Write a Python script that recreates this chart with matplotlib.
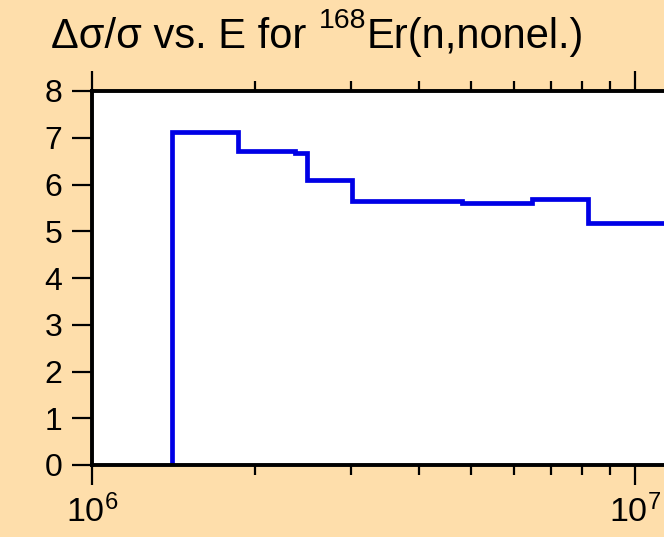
import matplotlib
matplotlib.use("Agg")
import matplotlib.pyplot as plt
from matplotlib.ticker import LogLocator, FixedLocator

# Data (bin edges in eV, relative uncertainty in %)
edges = [1.406e6, 1.861e6, 2.367e6, 2.489e6, 3.017e6, 4.80e6, 6.48e6, 8.22e6, 2.0e7]
values = [7.13, 6.72, 6.67, 6.10, 5.65, 5.61, 5.69, 5.17]
y_ticks = [0, 1, 2, 3, 4, 5, 6, 7, 8]

BG = "#FEDEAB"
LINE = "#0000E6"

plt.rcParams["font.family"] = ["Liberation Sans", "DejaVu Sans"]
plt.rcParams["mathtext.fontset"] = "custom"
plt.rcParams["mathtext.rm"] = "Liberation Sans"

W, H = 664, 537
fig = plt.figure(figsize=(W / 100, H / 100), dpi=100, facecolor=BG)

# axes: left spine at x=92, bottom at y=465, top at y=91; right side runs off the picture
left, right_px, top, bottom = 92, 798, 91, 465
ax = fig.add_axes([left / W, 1 - bottom / H, (right_px - left) / W, (bottom - top) / H])
ax.set_facecolor("white")

ax.stairs(values, edges, baseline=0, color=LINE, lw=3.4)

ax.set_xscale("log")
ax.set_xlim(1e6, 2e7)
ax.set_ylim(0, 8)
ax.yaxis.set_major_locator(FixedLocator(y_ticks))
ax.xaxis.set_major_locator(LogLocator(base=10, numticks=10))
ax.xaxis.set_minor_locator(LogLocator(base=10, subs=range(2, 10), numticks=10))
ax.xaxis.set_minor_formatter(plt.NullFormatter())

for s in ax.spines.values():
    s.set_linewidth(2.8)
ax.tick_params(axis="both", which="major", direction="out", length=14.5, width=1.6,
               colors="black")
ax.tick_params(axis="y", which="major", labelsize=23, pad=7, right=False)
ax.tick_params(axis="x", which="major", labelsize=24.5, pad=7)
ax.tick_params(axis="x", which="minor", direction="out", length=7.5, width=1.6)
ax.tick_params(axis="x", which="both", top=True, bottom=True)

# title with a larger-than-default superscript
t1 = fig.text(51 / W, 1 - 47.7 / H, "\u0394\u03c3/\u03c3 vs. E for ", fontsize=30,
              va="baseline", ha="left")
t2 = fig.add_artist(plt.Annotation("168", xy=(1, 0), xycoords=t1, xytext=(0.5, 21),
                                   textcoords="offset points", fontsize=20.5, va="baseline"))
t3 = fig.add_artist(plt.Annotation("Er(n,nonel.)", xy=(1, 0), xycoords=(t2, t1),
                                   fontsize=30, va="bottom"))

fig.savefig("out.png", dpi=100, facecolor=BG)
